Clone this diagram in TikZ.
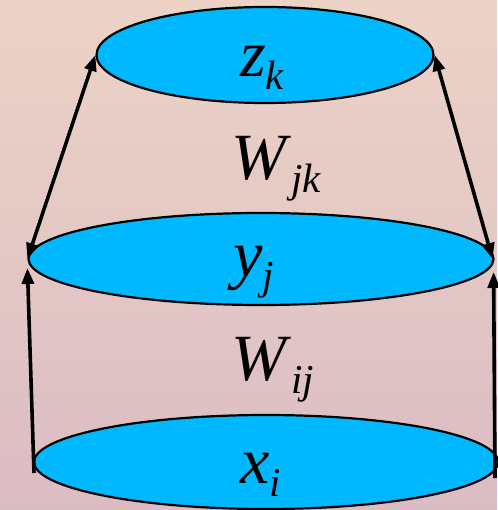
\documentclass[tikz,border=0pt]{standalone}
\usepackage{fontspec}
\setmainfont{Liberation Serif}
\usepackage{tikz}
\usetikzlibrary{shapes.geometric, arrows.meta, calc}

\definecolor{layerblue}{RGB}{0,184,255}
\definecolor{bgtop}{RGB}{236,211,198}
\definecolor{bgbot}{RGB}{219,188,196}

\newcommand{\wsub}[2]{\textit{#1}\raisebox{-13pt}{\fontsize{41}{41}\selectfont\textit{#2}}}

\begin{document}
\begin{tikzpicture}[
  x=1pt, y=-1pt,
  layerbox/.style={ellipse,draw,fill=layerblue,line width=2.2pt,inner sep=0pt},
  wlink/.style={line width=3.6pt,-{Triangle[length=16pt,width=12pt]}},
  lbl/.style={inner sep=0pt,anchor=base west,font=\fontsize{66}{72}\selectfont}
]
  \useasboundingbox (0,0) rectangle (497,510);
  \shade[top color=bgtop,bottom color=bgbot] (0,0) rectangle (497,510);

  \node[layerbox,minimum width=337pt,minimum height=96pt] (z) at (265,55)  {};
  \node[layerbox,minimum width=465pt,minimum height=92pt] (y) at (261,259) {};
  \node[layerbox,minimum width=464pt,minimum height=94pt] (x) at (266,462) {};

  \node[lbl] (zt)  at (240,77)  {\wsub{z}{k}};
  \node[lbl] (wjk) at (231,180) {\wsub{W}{jk}};
  \node[lbl] (yt)  at (233,276) {\wsub{y}{j}};
  \node[lbl] (wij) at (231,380) {\wsub{W}{ij}};
  \node[lbl] (xt)  at (240,483) {\wsub{x}{i}};

  \coordinate (xl) at (34,473);
  \coordinate (xr) at (495,478);

  \draw[wlink] (xl) -- ([yshift=-9pt]y.west);
  \draw[wlink] (xr) -- ([xshift=-1pt,yshift=-13pt]y.east);
  \draw[wlink,{Triangle[length=16pt,width=12pt]}-{Triangle[length=16pt,width=12pt]}] (y.west) -- (z.west);
  \draw[wlink,{Triangle[length=16pt,width=12pt]}-{Triangle[length=16pt,width=12pt]}] (z.east) -- ([xshift=-2pt]y.east);
\end{tikzpicture}
\end{document}
